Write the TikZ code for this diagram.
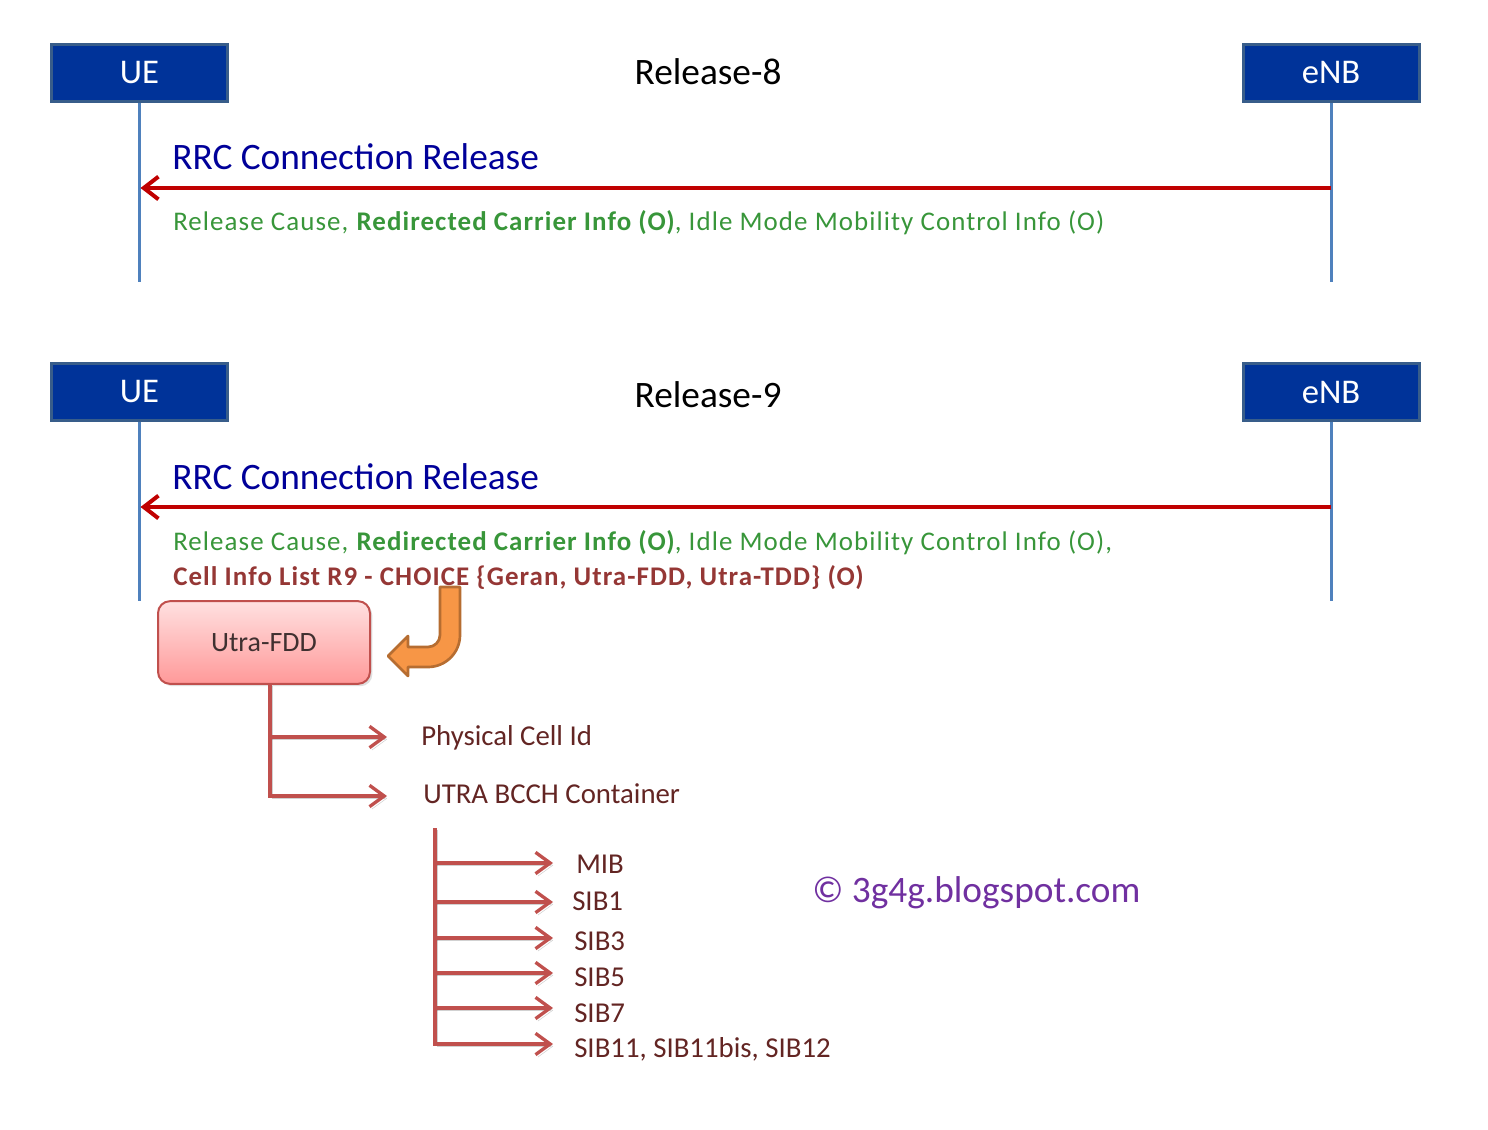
\documentclass[tikz,border=0pt]{standalone}
\usepackage{fontspec}
\setmainfont{Carlito}
\newfontfamily\spacedfont[LetterSpace=4]{Carlito}
\usetikzlibrary{arrows.meta,shadows}
\definecolor{entFill}{HTML}{003399}
\definecolor{entBorder}{HTML}{385D8A}
\definecolor{lifeC}{HTML}{4F81BD}
\definecolor{msgRed}{HTML}{C00000}
\definecolor{navyT}{HTML}{000099}
\definecolor{greenT}{HTML}{38963A}
\definecolor{brownT}{HTML}{953735}
\definecolor{treeC}{HTML}{C0504D}
\definecolor{leafT}{HTML}{632523}
\definecolor{orangeF}{HTML}{F79646}
\definecolor{orangeD}{HTML}{B66D31}
\definecolor{purpleT}{HTML}{7030A0}
\begin{document}
\begin{tikzpicture}[x=0.75pt,y=-0.75pt,
  entity/.style={draw=entBorder, fill=entFill, line width=2.25pt, minimum width=132pt,
    minimum height=43pt, inner sep=0pt, text=white, font=\fontsize{26}{30}\selectfont},
  lifeline/.style={draw=lifeC, line width=2.25pt},
  msg/.style={draw=msgRed, line width=3pt, -{Straight Barb[length=11pt,width=17pt,line width=3pt]}},
  title/.style={inner sep=0pt, anchor=base, font=\fontsize{28}{32}\selectfont, text=black},
  msgname/.style={inner sep=0pt, anchor=base west, font=\fontsize{28}{32}\selectfont, text=navyT},
  params/.style={inner sep=0pt, anchor=base west, font=\spacedfont\fontsize{20.2}{24}\selectfont, text=greenT},
  treeline/.style={draw=treeC, line width=2.5pt,
    preaction={draw=black, opacity=0.18, transform canvas={shift={(1.8pt,-1.8pt)}}}},
  treearrow/.style={treeline, -{Straight Barb[length=11pt,width=16pt,line width=2.5pt]}},
  leaf/.style={inner sep=0pt, anchor=base west, font=\fontsize{21.6}{25}\selectfont, text=leafT}
]
\useasboundingbox (0,0) rectangle (1488,1130);

% ---------- Release-8 ----------
\node[entity] (ue1) at (139.5,73) {UE};
\node[entity] (enb1) at (1331,73) {eNB};
\node[title] (rel8) at (708,85) {Release-8};
\coordinate (ue1end) at (139.5,282);
\coordinate (enb1end) at (1331,282);
\draw[lifeline] (ue1.south) -- (ue1end);
\draw[lifeline] (enb1.south) -- (enb1end);
\coordinate (m1s) at (1331,188);
\coordinate (m1e) at (140.5,188);
\draw[msg] (m1s) -- (m1e);
\node[msgname] (rrc1) at (172,170) {RRC Connection Release};
\node[params] (par1) at (173,231) {Release Cause, \textbf{Redirected Carrier Info (O)}, Idle Mode Mobility Control Info (O)};

% ---------- Release-9 ----------
\node[entity] (ue2) at (139.5,392) {UE};
\node[entity] (enb2) at (1331,392) {eNB};
\node[title] (rel9) at (708,407) {Release-9};
\coordinate (ue2end) at (139.5,601);
\coordinate (enb2end) at (1331,601);
\draw[lifeline] (ue2.south) -- (ue2end);
\draw[lifeline] (enb2.south) -- (enb2end);
\coordinate (m2s) at (1331,507);
\coordinate (m2e) at (140.5,507);
\draw[msg] (m2s) -- (m2e);
\node[msgname] (rrc2) at (172,489) {RRC Connection Release};
\node[params] (par2) at (173,550) {Release Cause, \textbf{Redirected Carrier Info (O)}, Idle Mode Mobility Control Info (O),};
\node[params, text=brownT, font=\spacedfont\bfseries\fontsize{20.2}{24}\selectfont] (cell) at (173,585) {Cell Info List R9 - CHOICE \{Geran, Utra-FDD, Utra-TDD\} (O)};

% ---------- Utra-FDD box ----------
\node[draw=treeC, line width=1.5pt, rounded corners=9pt, top color=red!12, bottom color=red!40!white,
  minimum width=159pt, minimum height=62pt, inner sep=0pt, text={rgb,255:red,64;green,48;blue,48},
  font=\fontsize{21}{25}\selectfont,
  drop shadow={shadow xshift=1.8pt, shadow yshift=-1.8pt, opacity=0.25}] (utra) at (264,642.5) {Utra-FDD};

% orange bent arrow
\filldraw[fill=orangeF, draw=orangeD, line width=2pt, line join=round]
  (440,587) -- (460,587) -- (460,635) .. controls (460,652.7) and (445.7,667) .. (428,667)
  -- (408,667) -- (408,676) -- (388,656) -- (408,636) -- (408,647) -- (428,647)
  .. controls (434.6,647) and (440,641.6) .. (440,635) -- cycle;

% ---------- first tree ----------
\coordinate (b0) at (270,684);
\coordinate (b1) at (270,737);
\coordinate (a1) at (387,737);
\coordinate (a2) at (387,796);
\draw[treearrow] (b0) |- (a2);
\draw[treearrow] (b1) -- (a1);
\node[leaf] (pcid) at (421,745) {Physical Cell Id};
\node[leaf] (bcch) at (423,803) {UTRA BCCH Container};

% ---------- second tree ----------
\coordinate (c0) at (435,828);
\coordinate (c1) at (435,863);
\coordinate (c2) at (435,902);
\coordinate (c3) at (435,938);
\coordinate (c4) at (435,973);
\coordinate (c5) at (435,1008);
\coordinate (d1) at (553,863);
\coordinate (d2) at (553,902);
\coordinate (d3) at (553,938);
\coordinate (d4) at (553,973);
\coordinate (d5) at (553,1008);
\coordinate (d6) at (553,1044);
\draw[treearrow] (c0) |- (d6);
\draw[treearrow] (c1) -- (d1);
\draw[treearrow] (c2) -- (d2);
\draw[treearrow] (c3) -- (d3);
\draw[treearrow] (c4) -- (d4);
\draw[treearrow] (c5) -- (d5);
\node[leaf] (mib) at (576,873) {MIB};
\node[leaf] (sib1) at (572,910) {SIB1};
\node[leaf] (sib3) at (574,950) {SIB3};
\node[leaf] (sib5) at (574,986) {SIB5};
\node[leaf] (sib7) at (574,1022) {SIB7};
\node[leaf] (sib11) at (574,1057) {SIB11, SIB11bis, SIB12};

% ---------- copyright ----------
\node[inner sep=0pt, anchor=base west, font=\fontsize{28}{32}\selectfont, text=purpleT] (copy) at (812,902) {© 3g4g.blogspot.com};
\end{tikzpicture}
\end{document}
